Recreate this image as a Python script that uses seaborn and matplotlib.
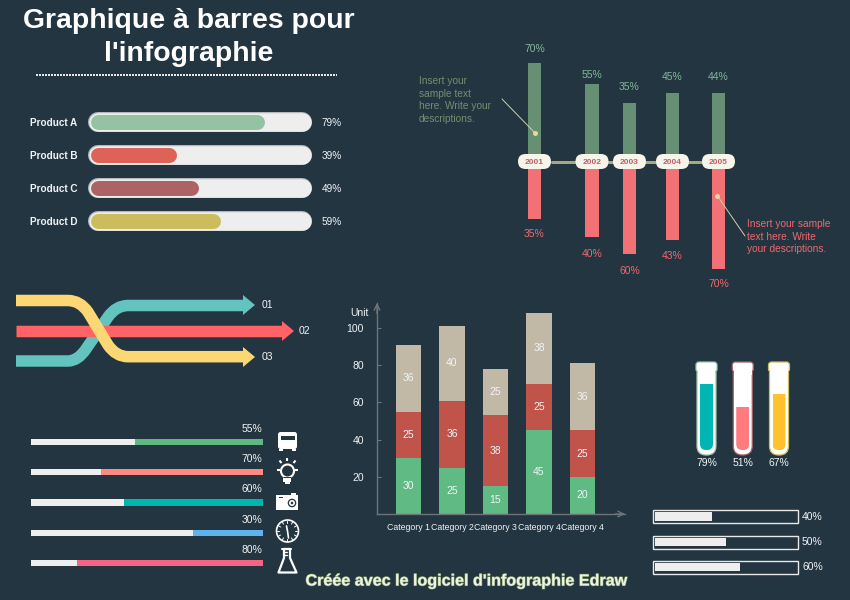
import numpy as np
import matplotlib
matplotlib.use('Agg')
import matplotlib.pyplot as plt
import matplotlib.patheffects as pe
from matplotlib.patches import Circle, FancyBboxPatch, PathPatch, Polygon, Rectangle
from matplotlib.path import Path
import seaborn as sns

# Data
products = ['Product A', 'Product B', 'Product C', 'Product D']
product_values = [79, 39, 49, 59]

years = ['2001', '2002', '2003', '2004', '2005']
up_heights = [70, 55, 42, 49, 49]
down_heights = [41, 54, 66, 56, 77]
up_labels = ['70%', '55%', '35%', '45%', '44%']
down_labels = ['35%', '40%', '60%', '43%', '70%']

flow_labels = ['01', '02', '03']

task_values = [55, 70, 60, 30, 80]

categories = ['Category 1', 'Category 2', 'Category 3', 'Category 4', 'Category 4 ']
stack_low = np.array([30, 25, 15, 45, 20])
stack_mid = np.array([25, 36, 38, 25, 25])
stack_top = np.array([36, 40, 25, 38, 36])
y_ticks = [20, 40, 60, 80, 100]

tube_names = ['a', 'b', 'c']
tube_values = [79, 51, 67]

meter_names = ['m1', 'm2', 'm3']
meter_values = [40, 50, 60]

# Colours
BG = '#233540'
WHITE = '#f0f4f7'
GREEN_BAR = '#678f73'
RED_BAR = '#f27176'

# Layout, in pixels of the 850x600 picture
W, H = 850, 600
PX = 0.72
year_x = [534.5, 592, 629.5, 672.5, 718.5]
up_offsets = [15, 10, 16, 16, 16]
down_offsets = [15, 17, 17, 16, 15]

sns.set_theme(style='white', rc={'figure.facecolor': BG, 'axes.facecolor': 'none'})
plt.rcParams['font.family'] = ['Liberation Sans', 'DejaVu Sans']

fig = plt.figure(figsize=(W / 100, H / 100), dpi=100)


def panel(x0, y0, x1, y1, z=2):
    ax = fig.add_axes([x0 / W, 1 - y1 / H, (x1 - x0) / W, (y1 - y0) / H], zorder=z)
    ax.patch.set_alpha(0)
    return ax


def label(ax, text, x, y, dx=0, dy=0, color=WHITE, size=7.5, ha='center', **kw):
    ax.annotate(text, xy=(x, y), xytext=(dx * PX, -dy * PX), textcoords='offset points',
                color=color, fontsize=size, ha=ha, va='center', annotation_clip=False, **kw)


bg = panel(0, 0, W, H, z=0)
bg.set_xlim(0, W)
bg.set_ylim(H, 0)
bg.axis('off')
top = panel(0, 0, W, H, z=5)
top.set_xlim(0, W)
top.set_ylim(H, 0)
top.axis('off')

# Title
bg.text(188.5, 21, 'Graphique à barres pour', color='white', fontsize=20.4, fontweight='bold', ha='center', va='center')
bg.text(188.5, 54, "l'infographie", color='white', fontsize=20.4, fontweight='bold', ha='center', va='center')
bg.plot([36, 337], [74.5, 74.5], color='#e8e8e8', lw=2 * PX, linestyle=(0, (1, 0.5)))

# Product bars with round ends
ax = panel(90, 105.5, 311, 237.5)
ax.set_xlim(0, 100)
ax.set_ylim(3.5, -0.5)
ax.axis('off')
product_colors = ['#93c3a0', '#dd6358', '#ad6364', '#cbbc5e']
track_r = 10 / 2.21
fill_r = 7.5 / 2.21
for i, v in enumerate(product_values):
    ax.plot([-0.9 + track_r, 100.45 - track_r], [i, i], color='#b4b9bd', lw=20 * PX, solid_capstyle='round', clip_on=False)
    ax.plot([-0.9 + track_r, 100.45 - track_r], [i, i], color='#eeeeee', lw=18.5 * PX, solid_capstyle='round', clip_on=False)
    ax.plot([fill_r, v - fill_r], [i, i], color=product_colors[i], lw=15 * PX, solid_capstyle='round')
    label(ax, products[i], 0, i, dx=-60, dy=1, size=7.2, ha='left', fontweight='bold')
    label(ax, f'{v}%', 100, i, dx=11, dy=1, size=7.2, ha='left')

# Diverging bars on a timeline
ax = panel(500, 40, 750, 290)
sns.barplot(x=year_x, y=up_heights, native_scale=True, orient='x', width=13.5 / 37.5, color=GREEN_BAR, saturation=1, linewidth=0, ax=ax)
sns.barplot(x=year_x, y=-np.array(down_heights), native_scale=True, orient='x', width=13.5 / 37.5, color=RED_BAR, saturation=1, linewidth=0, ax=ax)
ax.set_xlim(500, 750)
ax.set_ylim(-(290 - 161.5) / 1.4, (161.5 - 40) / 1.4)
ax.axis('off')
for i, x in enumerate(year_x):
    label(ax, up_labels[i], x, up_heights[i], dy=-up_offsets[i], color='#82b89a', size=7.5)
    label(ax, down_labels[i], x, -down_heights[i], dy=down_offsets[i], color='#f0686d', size=7.5)

top.plot([552, 702], [161.5, 161.5], color='#a5a97f', lw=3 * PX, zorder=1)
for i, x in enumerate(year_x):
    top.add_patch(FancyBboxPatch((x - 16.5, 154), 33, 15, boxstyle='round,pad=0,rounding_size=7.5',
                                 fc='#f7f4ea', ec='none', zorder=2))
    top.text(x, 162, years[i], color='#b5656b', fontsize=6, fontweight='bold', ha='center', va='center', zorder=3)

top.plot([502, 535], [99, 133], color='#cfcfa8', lw=0.7)
top.plot([535], [133], 'o', color='#e8d7a0', ms=5 * PX, mew=0)
top.plot([717.5, 745], [196, 236], color='#cfcfa8', lw=0.7)
top.plot([717.5], [196], 'o', color='#e8d7a0', ms=5 * PX, mew=0)
bg.text(419, 100, 'Insert your\nsample text\nhere. Write your\ndescriptions.', color='#71906f', fontsize=7.3,
        va='center', ha='left', linespacing=1.35)
bg.text(747, 236.5, 'Insert your sample\ntext here. Write\nyour descriptions.', color='#f0686d', fontsize=7.3,
        va='center', ha='left', linespacing=1.35)

# Crossing ribbons
M, L, C = Path.MOVETO, Path.LINETO, Path.CURVE3
teal = Path([(16, 361), (68, 361), (78, 361), (86, 349), (108, 317), (116, 305.5), (128, 305.5), (244, 305.5)],
            [M, L, C, C, L, C, C, L])
yellow = Path([(16, 300.5), (68, 300.5), (80, 300.5), (88, 312), (108, 345), (116, 356.7), (128, 356.7), (244, 356.7)],
              [M, L, C, C, L, C, C, L])
red = Path([(16, 331), (284, 331)], [M, L])
for path, col, w, tip, ty in [(teal, '#62c3bf', 11.5, 255, 305), (red, '#ff6365', 11.5, 294, 331), (yellow, '#fed775', 11.5, 255, 357)]:
    bg.add_patch(PathPatch(path, fc='none', ec=col, lw=w * PX, capstyle='butt', joinstyle='round'))
    bg.add_patch(Polygon([(tip - 12, ty - 10), (tip, ty), (tip - 12, ty + 10)], fc=col, ec='none'))
bg.text(262, 305.5, flow_labels[0], color=WHITE, fontsize=7.5, va='center')
bg.text(299, 331, flow_labels[1], color=WHITE, fontsize=7.5, va='center')
bg.text(262, 356.5, flow_labels[2], color=WHITE, fontsize=7.5, va='center')

# Task progress bars, filled from the right
ax = panel(31, 427, 263, 578)
task_names = [f't{i}' for i in range(len(task_values))]
task_colors = ['#62b882', '#ff8a80', '#00b4b0', '#5eb3ec', '#f56482']
sns.barplot(x=[100] * 5, y=task_names, orient='y', width=0.2, color='#eeeeee', saturation=1, linewidth=0, ax=ax)
sns.barplot(x=task_values, y=task_names, hue=task_names, palette=task_colors, orient='y', width=0.2, saturation=1, linewidth=0, legend=False, ax=ax)
ax.set_xlim(100, 0)
ax.set_ylim(4.5, -0.5)
ax.axis('off')
for i, v in enumerate(task_values):
    label(ax, f'{v}%', 0, i, dx=-1, dy=-13, ha='right', size=7.5)

# Icons
# bus
bg.add_patch(FancyBboxPatch((278, 432), 19, 17, boxstyle='round,pad=0,rounding_size=2.5', fc='white', ec='none'))
bg.add_patch(Rectangle((281, 436), 14, 4, fc=BG, ec='none'))
bg.add_patch(Rectangle((279, 449), 4, 2, fc='white', ec='none'))
bg.add_patch(Rectangle((292, 449), 4, 2, fc='white', ec='none'))
# bulb
bg.add_patch(Circle((287.5, 471), 6.5, fc='none', ec='white', lw=1.5))
bg.add_patch(Rectangle((284, 477), 7, 3.5, fc=BG, ec='none'))
bg.add_patch(Rectangle((283.5, 477.5), 8, 4, fc='white', ec='none'))
bg.add_patch(Rectangle((285, 482), 5, 2, fc='white', ec='none'))
for x0, y0, x1, y1 in [(287.5, 458, 287.5, 461), (279.5, 460.5, 281.5, 463), (295.5, 460.5, 293.5, 463),
                       (277, 470, 280, 470), (295, 470, 298, 470)]:
    bg.plot([x0, x1], [y0, y1], color='white', lw=1.5, solid_capstyle='butt')
# camera
bg.add_patch(Rectangle((276, 495), 22, 15, fc='white', ec='none'))
bg.add_patch(Rectangle((291.5, 493), 4.5, 2, fc='white', ec='none'))
bg.add_patch(Rectangle((279, 497), 4, 1, fc=BG, ec='none'))
bg.add_patch(Circle((292, 503), 4.3, fc=BG, ec='none'))
bg.add_patch(Circle((292, 503), 3, fc='white', ec='none'))
bg.add_patch(Circle((292, 503), 1.3, fc=BG, ec='none'))
# clock
bg.add_patch(Circle((287.5, 531), 11, fc='none', ec='white', lw=1.2))
for a in np.arange(0, 360, 30):
    r = np.deg2rad(a)
    bg.plot([287.5 + 8 * np.cos(r), 287.5 + 10 * np.cos(r)], [531 + 8 * np.sin(r), 531 + 10 * np.sin(r)], color='white', lw=0.7)
bg.plot([286.5, 287.5, 288.5], [526, 531, 538], color='white', lw=1.2)
# flask
bg.add_patch(Polygon([(284, 549), (290, 549), (290, 558), (296.5, 572.5), (278.5, 572.5), (284, 558)], closed=True,
                     fc='none', ec='white', lw=1.6, joinstyle='round'))
bg.plot([282.5, 291.5], [548.5, 548.5], color='white', lw=1.5)
bg.plot([284, 287], [552, 552], color='white', lw=1)
bg.plot([284, 287], [555, 555], color='white', lw=1)

# Stacked bars
ax = panel(377, 303, 625, 514)
axis_col = '#6f7478'
sns.barplot(x=categories, y=stack_low + stack_mid + stack_top, width=0.575, color='#c1b8a6', saturation=1, linewidth=0, ax=ax)
sns.barplot(x=categories, y=stack_low + stack_mid, width=0.575, color='#c0544a', saturation=1, linewidth=0, ax=ax)
sns.barplot(x=categories, y=stack_low, width=0.575, color='#5fba84', saturation=1, linewidth=0, ax=ax)
ax.set_xlim(-0.724, 4.977)
ax.set_ylim(0, 211 / 1.86)
ax.set_yticks(y_ticks)
ax.set_xticks(range(5))
ax.set_xticklabels([c.strip() for c in categories])
ax.tick_params(axis='y', direction='in', length=4 * PX, width=0.8, color=axis_col, labelcolor=WHITE, labelsize=7.5, pad=13 * PX, left=True)
ax.tick_params(axis='x', length=0, labelcolor=WHITE, labelsize=6.3, pad=9 * PX)
sns.despine(ax=ax)
for side in ['left', 'bottom']:
    ax.spines[side].set_color(axis_col)
    ax.spines[side].set_linewidth(1)
ax.annotate('', xy=(1.0, 0), xytext=(0.96, 0), xycoords='axes fraction',
            arrowprops=dict(arrowstyle='->', color=axis_col, lw=1, mutation_scale=10, shrinkA=0, shrinkB=0))
ax.annotate('', xy=(0, 1.0), xytext=(0, 0.95), xycoords='axes fraction',
            arrowprops=dict(arrowstyle='->', color=axis_col, lw=1, mutation_scale=10, shrinkA=0, shrinkB=0))
for i in range(5):
    label(ax, str(stack_low[i]), i, stack_low[i] / 2, size=7.5)
    label(ax, str(stack_mid[i]), i, stack_low[i] + stack_mid[i] / 2, size=7.5)
    label(ax, str(stack_top[i]), i, stack_low[i] + stack_mid[i] + stack_top[i] / 2, size=7.5)
bg.text(350, 313.5, 'Unit', color=WHITE, fontsize=7.5, va='center')

# Test tubes
tube_x = [706.5, 742.75, 779]
tube_edges = ['#9fc6ad', '#a85f63', '#cbbb5e']
tube_fills = ['#00b5b2', '#ff7b7e', '#ffc22e']
for x, edge in zip(tube_x, tube_edges):
    bg.add_patch(FancyBboxPatch((x - 9.5, 364), 19, 91, boxstyle='round,pad=0,rounding_size=9', fc='white', ec=edge, lw=0.9))
    bg.add_patch(FancyBboxPatch((x - 10.5, 362), 21, 10, boxstyle='round,pad=0,rounding_size=3', fc='white', ec=edge, lw=0.9))
    bg.add_patch(Rectangle((x - 8.8, 369), 17.6, 6, fc='white', ec='none'))

ax = panel(688.4, 366, 797.2, 450)
sns.barplot(x=tube_names, y=tube_values, hue=tube_names, palette=tube_fills, width=13 / 36.25, saturation=1, linewidth=0, legend=False, ax=ax)
ax.set_xlim(-0.5, 2.5)
ax.set_ylim(0, 100)
ax.axis('off')
bars = [p for p in ax.patches if p.get_height() > 0]
for bar, x in zip(bars, tube_x):
    clip = FancyBboxPatch((x - 6.5, 340), 13, 110, boxstyle='round,pad=0,rounding_size=6', transform=bg.transData)
    bar.set_clip_path(clip)
for i, v in enumerate(tube_values):
    label(ax, f'{v}%', i, 0, dy=13, size=7.5)

# Outlined meters
meter_y = [516.5, 542, 567]
for y in meter_y:
    bg.add_patch(Rectangle((653, y - 6.5), 145, 13, fc='none', ec='#e8e8e8', lw=1))
ax = panel(655, 503.9, 797, 579.6)
sns.barplot(x=meter_values, y=meter_names, orient='y', width=8.5 / 25.3, color='#eeeeee', saturation=1, linewidth=0, ax=ax)
ax.set_xlim(0, 100)
ax.set_ylim(2.5, -0.5)
ax.axis('off')
for i, v in enumerate(meter_values):
    label(ax, f'{v}%', 100, i, dx=5, size=7.5, ha='left')

# Footer
bg.text(466.5, 581, "Créée avec le logiciel d'infographie Edraw", color='#eef2e4', fontsize=11.6, fontweight='bold',
        ha='center', va='center', path_effects=[pe.withStroke(linewidth=0.8, foreground='#7f9a5f')])

fig.savefig('out.png', dpi=100)
